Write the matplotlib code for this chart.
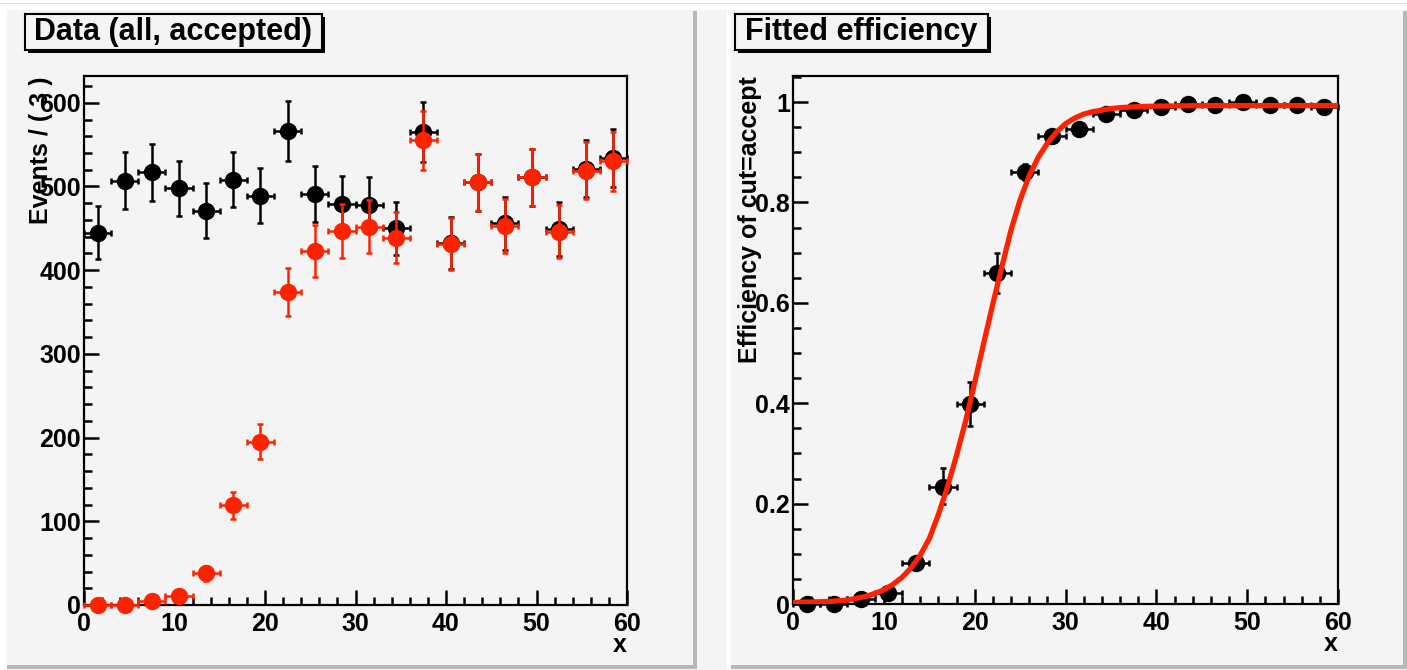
import matplotlib
matplotlib.use("Agg")
import matplotlib.pyplot as plt
from matplotlib.patches import Rectangle
from matplotlib.ticker import MultipleLocator

plt.rcParams['font.family'] = ['Liberation Sans', 'DejaVu Sans']
plt.rcParams['font.weight'] = 'bold'

# ---- data ----
BIN_WIDTH = 3
x_centers = [1.5, 4.5, 7.5, 10.5, 13.5, 16.5, 19.5, 22.5, 25.5, 28.5,
             31.5, 34.5, 37.5, 40.5, 43.5, 46.5, 49.5, 52.5, 55.5, 58.5]

all_events = [445, 507, 517, 498, 471, 508, 489, 566, 491, 479,
              478, 450, 565, 433, 505, 456, 511, 449, 521, 534]
all_err = [32, 34, 34, 33, 33, 33, 33, 36, 33, 33,
           33, 32, 36, 31, 34, 32, 34, 32, 34, 35]

acc_events = [0, 0, 5, 11, 38, 119, 195, 374, 423, 447,
              452, 439, 555, 431, 505, 453, 511, 446, 519, 530]
acc_err = [0, 0, 3, 5, 9, 16, 21, 29, 31, 32,
           32, 31, 35, 31, 34, 32, 34, 32, 34, 35]

eff = [0.0, 0.0, 0.010, 0.022, 0.081, 0.234, 0.398, 0.660, 0.861, 0.933,
       0.946, 0.977, 0.984, 0.991, 0.996, 0.994, 1.0, 0.994, 0.995, 0.990]
eff_err_lo = [0.0, 0.0, 0.004, 0.007, 0.012, 0.034, 0.044, 0.040, 0.016, 0.011,
              0.010, 0.007, 0.006, 0.004, 0.003, 0.004, 0.002, 0.004, 0.003, 0.004]
eff_err_hi = [0.004, 0.004, 0.005, 0.008, 0.013, 0.036, 0.044, 0.040, 0.015, 0.011,
              0.010, 0.006, 0.005, 0.003, 0.002, 0.003, 0.0, 0.003, 0.002, 0.004]

fit_x = [0, 2, 4, 6, 8, 9, 10, 11, 12, 13, 14, 15, 16, 17, 18, 19, 20, 21, 22,
         23, 24, 25, 26, 27, 28, 29, 30, 31, 32, 33, 34, 35, 36, 38, 40, 45, 50, 55, 60]
fit_y = [0.003, 0.004, 0.005, 0.008, 0.015, 0.021, 0.028, 0.039, 0.053, 0.072,
         0.097, 0.130, 0.178, 0.233, 0.296, 0.364, 0.441, 0.520, 0.598, 0.672,
         0.745, 0.805, 0.853, 0.890, 0.918, 0.940, 0.957, 0.968, 0.976, 0.981,
         0.984, 0.987, 0.989, 0.991, 0.992, 0.993, 0.993, 0.993, 0.993]

RED = '#ff2200'
PAD = '#f4f4f4'
W, H = 1407, 670

fig = plt.figure(figsize=(W / 100, H / 100), dpi=100, facecolor=PAD)


def px_rect(x0, y0, x1, y1, **kw):
    # rectangle given in image pixels (origin top-left)
    r = Rectangle((x0 / W, 1 - y1 / H), (x1 - x0) / W, (y1 - y0) / H,
                  transform=fig.transFigure, **kw)
    fig.add_artist(r)
    return r


# canvas / pad bevels
px_rect(0, 0, W, 10, facecolor='white', edgecolor='none')
px_rect(0, 3, W, 4, facecolor='#e2e2e2', edgecolor='none')
px_rect(0, 10, 7, H, facecolor='white', edgecolor='none')
px_rect(693, 11, 697, 669, facecolor='#b8b8b8', edgecolor='none')
px_rect(7, 665, 697, 669, facecolor='#b8b8b8', edgecolor='none')
px_rect(727, 10, 731, 669, facecolor='white', edgecolor='none')
px_rect(1403, 11, 1407, 669, facecolor='#b8b8b8', edgecolor='none')
px_rect(731, 665, 1407, 669, facecolor='#b8b8b8', edgecolor='none')


def title_box(x0, y0, x1, y1, text):
    px_rect(x0 + 3, y0 + 3, x1 + 3, y1 + 3, facecolor='black', edgecolor='none')
    px_rect(x0, y0, x1, y1, facecolor=PAD, edgecolor='black', linewidth=1.5)
    fig.text((x0 + x1) / 2 / W, 1 - (y0 + y1) / 2 / H, text, fontsize=22,
             ha='center', va='center')


title_box(25, 14, 322, 50, 'Data (all, accepted)')
title_box(735, 14, 988, 50, 'Fitted efficiency')


def make_axes(x0, x1, y0, y1):
    ax = fig.add_axes([x0 / W, 1 - y1 / H, (x1 - x0) / W, (y1 - y0) / H])
    ax.set_facecolor(PAD)
    for s in ax.spines.values():
        s.set_linewidth(1.6)
    ax.tick_params(which='both', direction='in', top=False, right=False, width=1.8)
    ax.tick_params(which='major', length=11, labelsize=18)
    ax.tick_params(axis='x', which='major', pad=5)
    ax.tick_params(axis='y', which='major', pad=2)
    ax.tick_params(which='minor', length=6)
    ax.set_xlim(0, 60)
    ax.xaxis.set_major_locator(MultipleLocator(10))
    ax.xaxis.set_minor_locator(MultipleLocator(2))
    ax.text(1.0, -0.076, 'x', transform=ax.transAxes, fontsize=18,
            ha='right', va='center')
    return ax


def unclip(container):
    for art in container.get_children():
        art.set_clip_on(False)


# ---- left: data ----
ax1 = make_axes(84, 627, 76, 605)
ax1.set_ylim(0, 632)
ax1.yaxis.set_major_locator(MultipleLocator(100))
ax1.yaxis.set_minor_locator(MultipleLocator(20))
eb = ax1.errorbar(x_centers, all_events, xerr=BIN_WIDTH / 2, yerr=all_err, fmt='o',
                  color='black', ms=11.5, elinewidth=1.8, capsize=2.5, capthick=1.8,
                  zorder=3)
unclip(eb)
eb = ax1.errorbar(x_centers, acc_events, xerr=BIN_WIDTH / 2, yerr=acc_err, fmt='o',
                  color=RED, ms=11.5, elinewidth=1.8, capsize=2.5, capthick=1.8,
                  zorder=4)
unclip(eb)
ax1.text(-0.079, 1.0, 'Events / ( 3 )', transform=ax1.transAxes, rotation=90,
         fontsize=18, ha='center', va='top')

# ---- right: efficiency ----
ax2 = make_axes(793, 1338, 76, 604)
ax2.set_ylim(0, 1.052)
ax2.yaxis.set_major_locator(MultipleLocator(0.2))
ax2.yaxis.set_minor_locator(MultipleLocator(0.05))
ax2.yaxis.set_major_formatter(lambda v, p: '0' if v == 0 else ('1' if abs(v - 1) < 1e-9 else f'{v:.1f}'))
eb = ax2.errorbar(x_centers, eff, xerr=BIN_WIDTH / 2, yerr=[eff_err_lo, eff_err_hi],
                  fmt='o', color='black', ms=11.5, elinewidth=1.8, capsize=2.5,
                  capthick=1.8, zorder=3)
unclip(eb)
ax2.plot(fit_x, fit_y, color=RED, lw=3.8, zorder=5, solid_joinstyle='round',
         solid_capstyle='butt')
ax2.text(-0.079, 1.0, 'Efficiency of cut=accept', transform=ax2.transAxes,
         rotation=90, fontsize=18, ha='center', va='top')

fig.savefig('out.png', dpi=100, facecolor=PAD)
